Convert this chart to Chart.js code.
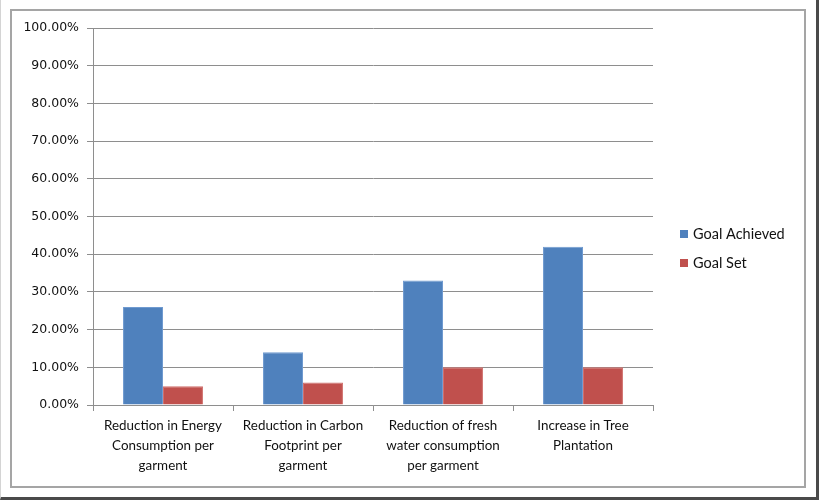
<!DOCTYPE html>
<html>
<head>
<meta charset="utf-8">
<script src="https://cdn.jsdelivr.net/npm/chart.js@4.4.1/dist/chart.umd.min.js"></script>
<style>
    html, body { margin: 0; padding: 0; background: #fff; }
    #page { position: relative; width: 820px; height: 500px; overflow: hidden; }
    #shadow { position: absolute; left: 0; top: 0; width: 819px; height: 500px;
        border-left: 1px solid #d4d4d4; border-right: 3px solid #4a4a4a; border-bottom: 3px solid #4a4a4a; box-sizing: border-box; }
    #frame { position: absolute; left: 10px; top: 9px; width: 796px; height: 479px;
        border: 2px solid #a5a5a5; box-sizing: border-box; }
    #chart { position: absolute; left: 0; top: 0; }
</style>
</head>
<body>
<div id="page">
    <div id="shadow"></div>
    <div id="frame"></div>
    <canvas id="chart" width="820" height="500"></canvas>
</div>
<script>
const categories = [
    ['Reduction in Energy', 'Consumption per', 'garment'],
    ['Reduction in Carbon', 'Footprint per', 'garment'],
    ['Reduction of fresh', 'water consumption', 'per garment'],
    ['Increase in Tree', 'Plantation']
];
const goalAchieved = [0.26, 0.14, 0.33, 0.42];
const goalSet = [0.05, 0.06, 0.10, 0.10];

const axisGray = '#8e8e8e';
const labelFont = "Lato, 'Open Sans', sans-serif";

// legend drawn on the canvas to the right of the plot
const sideLegend = {
    id: 'sideLegend',
    afterDraw(chart) {
        const ctx = chart.ctx;
        ctx.save();
        ctx.font = '14.5px ' + labelFont;
        ctx.textBaseline = 'middle';
        chart.data.datasets.forEach((ds, i) => {
            const y = 234 + i * 29;
            ctx.fillStyle = ds.backgroundColor;
            ctx.fillRect(680, y - 4, 8, 8);
            ctx.fillStyle = '#111';
            ctx.fillText(ds.label, 693, y);
        });
        ctx.restore();
    }
};

new Chart(document.getElementById('chart'), {
    type: 'bar',
    data: {
        labels: categories,
        datasets: [
            { label: 'Goal Achieved', data: goalAchieved, backgroundColor: '#4f81bd', borderColor: '#6f9ad0', borderWidth: 1 },
            { label: 'Goal Set', data: goalSet, backgroundColor: '#c0504d', borderColor: '#d06f6c', borderWidth: 1 }
        ]
    },
    options: {
        responsive: false,
        devicePixelRatio: 1,
        animation: false,
        categoryPercentage: 0.571,
        barPercentage: 1,
        layout: { padding: { top: 28, left: 0, right: 167, bottom: 0 } },
        plugins: {
            legend: { display: false },
            tooltip: { enabled: false }
        },
        scales: {
            x: {
                offset: true,
                afterFit(scale) { scale.height = 95; },
                grid: { display: true, drawOnChartArea: false, offset: true, tickLength: 6, color: axisGray },
                border: { color: axisGray, width: 1 },
                ticks: {
                    color: '#111',
                    padding: 5,
                    maxRotation: 0,
                    autoSkip: false,
                    font: { family: labelFont, size: 13.4, lineHeight: 20 / 13.4 }
                }
            },
            y: {
                min: 0,
                max: 1,
                afterFit(scale) { scale.width = 93; },
                grid: { color: axisGray, tickLength: 6 },
                border: { color: axisGray, width: 1 },
                ticks: {
                    stepSize: 0.1,
                    color: '#111',
                    padding: 8,
                    font: { family: "'DejaVu Sans', sans-serif", size: 12.5 },
                    callback: v => (v * 100).toFixed(2) + '%'
                }
            }
        }
    },
    plugins: [sideLegend]
});
</script>
</body>
</html>
